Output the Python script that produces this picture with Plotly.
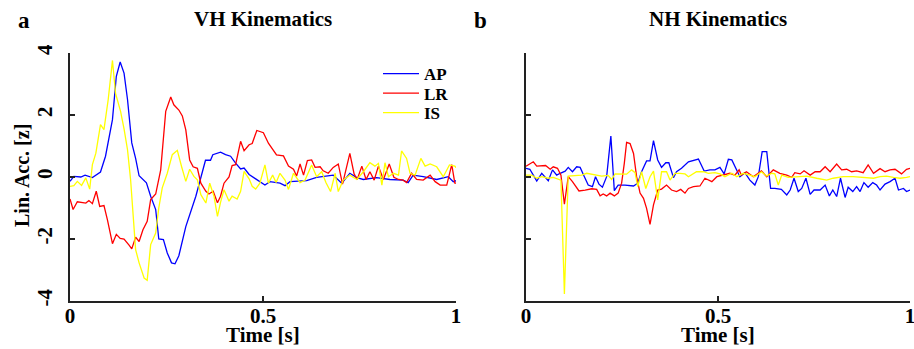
import plotly.graph_objects as go

# ---------------- data ----------------
vh_ap_t = [0.000,0.010,0.028,0.039,0.058,0.079,0.092,0.110,0.120,0.130,0.140,0.149,0.160,0.170,0.179,0.198,0.209,0.222,0.230,0.242,0.252,0.263,0.272,0.282,0.300,0.326,0.351,0.364,0.370,0.390,0.403,0.416,0.429,0.442,0.451,0.464,0.481,0.505,0.518,0.544,0.557,0.570,0.613,0.639,0.682,0.704,0.725,0.743,0.760,0.794,0.829,0.863,0.876,0.889,0.915,0.950,0.980,0.993,1.0]
vh_ap = [-0.14,0.02,0.0,0.06,-0.02,0.16,0.67,1.85,3.25,3.71,3.35,2.5,1.1,0.6,0.04,-0.19,-0.62,-1.05,-2.0,-2.02,-2.45,-2.77,-2.8,-2.54,-1.6,-0.62,0.54,0.54,0.72,0.8,0.72,0.67,0.45,0.26,0.29,0.08,-0.06,-0.26,-0.15,-0.2,-0.28,-0.15,-0.12,-0.01,0.06,-0.2,0.12,-0.02,-0.08,-0.02,-0.08,-0.1,-0.18,0.06,0.01,-0.08,0.01,-0.15,-0.12]

vh_lr_t = [0.000,0.008,0.019,0.032,0.041,0.049,0.058,0.068,0.077,0.088,0.097,0.110,0.120,0.130,0.140,0.153,0.160,0.170,0.179,0.189,0.200,0.209,0.222,0.235,0.248,0.261,0.269,0.282,0.291,0.300,0.310,0.319,0.330,0.339,0.352,0.360,0.371,0.382,0.390,0.399,0.412,0.420,0.429,0.442,0.451,0.464,0.472,0.484,0.501,0.514,0.535,0.553,0.566,0.579,0.587,0.596,0.605,0.615,0.626,0.635,0.648,0.656,0.669,0.682,0.695,0.706,0.725,0.736,0.744,0.756,0.767,0.777,0.788,0.799,0.812,0.827,0.839,0.851,0.863,0.872,0.885,0.898,0.915,0.933,0.946,0.959,0.976,0.989,0.997,1.0]
vh_lr = [-0.71,-1.05,-0.8,-0.82,-0.84,-0.76,-0.86,-0.46,-0.95,-0.92,-1.38,-2.15,-1.85,-1.98,-2.0,-2.2,-2.32,-1.94,-2.08,-1.7,-1.43,-0.73,-0.55,0.23,2.12,2.58,2.33,2.16,1.97,1.52,0.55,0.33,0.28,-0.2,-0.46,-0.55,-0.46,-0.83,-0.62,-0.2,0.0,0.37,0.4,1.15,0.85,1.04,1.08,1.5,1.43,1.09,0.71,0.68,0.35,0.25,0.03,0.42,0.06,0.53,0.55,0.31,0.33,0.2,0.12,0.31,0.42,-0.23,0.76,0.1,-0.08,0.35,-0.08,0.17,-0.1,0.35,-0.08,0.42,-0.01,-0.08,-0.1,-0.18,0.12,-0.08,-0.1,0.06,-0.15,-0.26,-0.26,0.4,-0.2,-0.2]

vh_is_t = [0.000,0.010,0.019,0.030,0.041,0.051,0.058,0.067,0.079,0.088,0.099,0.110,0.118,0.131,0.140,0.149,0.157,0.163,0.170,0.179,0.192,0.200,0.209,0.222,0.230,0.239,0.252,0.265,0.278,0.289,0.300,0.310,0.321,0.330,0.339,0.352,0.362,0.373,0.382,0.390,0.399,0.412,0.420,0.433,0.442,0.451,0.464,0.472,0.481,0.492,0.505,0.514,0.525,0.534,0.544,0.557,0.566,0.579,0.596,0.609,0.626,0.639,0.652,0.663,0.675,0.687,0.695,0.708,0.725,0.743,0.760,0.777,0.790,0.799,0.808,0.816,0.825,0.838,0.851,0.859,0.872,0.881,0.894,0.909,0.920,0.933,0.950,0.967,0.983,0.997,1.0]
vh_is = [-0.3,-0.28,-0.14,-0.27,-0.03,-0.39,0.4,0.77,1.69,1.53,2.5,3.76,2.7,2.12,1.55,0.88,-0.09,-1.16,-2.34,-2.77,-3.26,-3.33,-2.18,-1.81,-1.0,-0.35,0.12,0.72,0.86,0.34,-0.14,0.25,0.02,-0.09,-0.57,-0.84,-0.2,-0.62,-1.27,-0.82,-0.41,-0.78,-0.62,-0.71,-0.46,0.18,-0.06,-0.3,-0.39,-0.2,0.39,-0.2,0.06,-0.18,0.12,-0.1,-0.4,0.12,-0.18,-0.1,0.39,0.01,0.17,-0.18,-0.47,0.12,-0.47,-0.1,0.06,-0.08,0.17,0.46,0.35,0.44,-0.26,0.46,0.01,0.12,0.06,0.84,0.6,0.12,0.06,0.6,0.35,0.42,0.33,0.01,0.39,0.35,0.3]

nh_ap_t = [0.000,0.010,0.019,0.028,0.041,0.049,0.058,0.069,0.080,0.089,0.102,0.110,0.121,0.132,0.141,0.152,0.162,0.173,0.181,0.190,0.199,0.210,0.221,0.230,0.240,0.258,0.280,0.291,0.301,0.314,0.323,0.332,0.343,0.353,0.364,0.372,0.384,0.392,0.405,0.423,0.436,0.449,0.464,0.479,0.492,0.505,0.516,0.527,0.536,0.547,0.557,0.570,0.583,0.596,0.605,0.615,0.627,0.637,0.648,0.665,0.679,0.688,0.698,0.709,0.718,0.729,0.740,0.750,0.766,0.779,0.790,0.799,0.809,0.819,0.831,0.839,0.851,0.861,0.870,0.880,0.891,0.903,0.913,0.922,0.935,0.948,0.961,0.970,0.983,0.991,1.0]
nh_ap = [0.28,0.25,0.06,-0.13,0.12,0.01,-0.12,0.23,0.06,0.12,0.19,0.31,0.17,0.33,0.31,0.01,-0.26,-0.31,0.01,-0.23,-0.33,0.01,1.32,-0.44,-0.26,-0.26,-0.29,-0.2,0.17,0.52,0.52,1.17,0.55,0.31,0.46,0.46,-0.02,0.17,0.28,0.49,0.54,0.58,0.19,0.23,0.23,0.31,0.1,0.57,0.55,0.28,0.01,0.14,-0.1,-0.26,0.01,0.82,0.82,-0.37,-0.37,-0.4,-0.58,-0.42,-0.04,-0.47,-0.37,-0.04,-0.56,-0.42,-0.42,-0.26,-0.61,-0.42,-0.63,-0.04,-0.66,-0.33,-0.47,-0.31,-0.47,-0.18,-0.33,-0.18,-0.26,-0.42,-0.23,-0.15,-0.04,-0.42,-0.37,-0.47,-0.42]

nh_lr_t = [0.000,0.019,0.028,0.041,0.051,0.063,0.071,0.082,0.091,0.100,0.110,0.121,0.138,0.154,0.171,0.184,0.193,0.201,0.210,0.219,0.230,0.240,0.249,0.256,0.262,0.271,0.280,0.288,0.297,0.306,0.314,0.323,0.332,0.343,0.353,0.366,0.379,0.392,0.403,0.414,0.423,0.436,0.453,0.466,0.484,0.497,0.514,0.531,0.544,0.555,0.561,0.574,0.592,0.605,0.613,0.627,0.644,0.661,0.679,0.692,0.700,0.714,0.724,0.740,0.753,0.766,0.779,0.792,0.809,0.822,0.835,0.848,0.861,0.878,0.891,0.905,0.922,0.935,0.948,0.961,0.978,0.991,1.0]
nh_lr = [0.35,0.49,0.35,0.35,0.37,0.25,0.33,0.28,0.06,-0.88,0.01,-0.15,-0.45,-0.42,-0.38,-0.4,-0.61,-0.55,-0.61,-0.52,-0.61,-0.52,-0.2,0.44,1.12,1.08,0.76,0.01,-0.52,-0.69,-1.01,-1.53,-0.9,-0.42,-0.39,-0.26,-0.42,-0.47,-0.4,-0.52,-0.37,-0.31,-0.29,-0.04,-0.15,0.01,0.06,0.12,0.06,0.23,0.06,0.17,0.01,0.12,0.2,0.01,0.23,0.12,0.06,-0.01,0.14,0.1,0.2,0.06,0.17,0.17,0.33,0.17,0.42,0.23,0.25,0.17,0.2,0.14,0.39,0.12,0.27,0.17,0.23,0.25,0.1,0.25,0.28]

nh_is_t = [0.000,0.015,0.028,0.041,0.058,0.071,0.091,0.100,0.110,0.123,0.145,0.158,0.180,0.197,0.214,0.223,0.232,0.249,0.262,0.275,0.284,0.291,0.301,0.312,0.323,0.332,0.343,0.353,0.366,0.375,0.388,0.401,0.414,0.423,0.444,0.462,0.475,0.492,0.505,0.518,0.536,0.549,0.566,0.583,0.596,0.613,0.627,0.640,0.648,0.657,0.666,0.683,0.705,0.731,0.757,0.783,0.800,0.826,0.852,0.878,0.905,0.922,0.939,0.957,0.974,0.991,1.0]
nh_is = [0.06,0.06,-0.04,0.01,-0.04,-0.01,-0.1,-3.77,0.03,0.05,0.06,0.12,0.06,0.03,0.05,-0.08,0.1,0.09,0.09,0.23,0.14,-0.31,0.17,-0.37,0.01,0.19,-0.74,0.17,0.17,-0.1,0.12,0.12,0.1,0.01,0.17,0.17,0.12,0.14,0.1,0.01,0.12,0.01,0.12,0.06,0.01,0.17,0.03,0.12,0.1,-0.26,0.06,-0.01,0.01,0.03,-0.04,-0.1,-0.04,0.01,0.01,-0.01,-0.04,0.01,0.03,-0.01,-0.04,-0.01,0.01]

series_names = ["AP", "LR", "IS"]
series_colors = ["#0000ff", "#ff0000", "#ffff00"]
x_ticks = [0, 0.5, 1]
x_tick_text = ["0", "0.5", "1"]
y_ticks = [-4, -2, 0, 2, 4]
y_tick_text = ["-4", "-2", "0", "2", "4"]
panel_titles = ["VH Kinematics", "NH Kinematics"]
panel_letters = ["a", "b"]

# ---------------- figure ----------------
FONT = "Liberation Serif, Times New Roman, serif"
fig = go.Figure()

L, R, T, B = 70, 4, 53, 48
W, H = 914, 349
pw = W - L - R
ph = H - T - B
d1 = [0, (456 - L) / pw]
d2 = [(526 - L) / pw, 1]

def px_x(px):
    return (px - L) / pw

def px_y(py):
    return (T + ph - py) / ph

legend_ids = ["legend", "legend2", "legend3"]
legend_rows_px = [73, 92.5, 112]

vh = [(vh_ap_t, vh_ap), (vh_lr_t, vh_lr), (vh_is_t, vh_is)]
nh = [(nh_ap_t, nh_ap), (nh_lr_t, nh_lr), (nh_is_t, nh_is)]
for i, (t, v) in enumerate(vh):
    fig.add_trace(go.Scatter(x=t, y=v, mode="lines", name=series_names[i],
                             line=dict(color=series_colors[i], width=1.3),
                             xaxis="x", yaxis="y", showlegend=True, legend=legend_ids[i]))
for i, (t, v) in enumerate(nh):
    fig.add_trace(go.Scatter(x=t, y=v, mode="lines", name=series_names[i],
                             line=dict(color=series_colors[i], width=1.3),
                             xaxis="x2", yaxis="y2", showlegend=False))

TICKFONT = dict(family=FONT, size=21, color="black", weight="bold")
axis_common = dict(showline=True, linecolor="#222", linewidth=2, ticks="inside",
                   ticklen=5, tickwidth=1.5, tickcolor="#222", showgrid=False,
                   zeroline=False, mirror=False, automargin=False, tickfont=TICKFONT,
                   ticklabeloverflow="allow")

legend_layout = {}
for i, lid in enumerate(legend_ids):
    legend_layout[lid] = dict(x=px_x(378), y=px_y(legend_rows_px[i] - 17),
                              xanchor="left", yanchor="top",
                              bgcolor="rgba(0,0,0,0)", borderwidth=0, itemwidth=36,
                              font=dict(family=FONT, size=17, color="black", weight="bold"))

fig.update_layout(
    width=W, height=H, margin=dict(l=L, r=R, t=T, b=B, autoexpand=False),
    paper_bgcolor="white", plot_bgcolor="white",
    xaxis=dict(domain=d1, range=[0, 1], tickvals=x_ticks, ticktext=x_tick_text,
               anchor="y", ticklabelstandoff=-5, **axis_common),
    xaxis2=dict(domain=d2, range=[0, 1], tickvals=x_ticks, ticktext=x_tick_text,
                anchor="y2", ticklabelstandoff=-5, **axis_common),
    yaxis=dict(domain=[0, 1], range=[-4, 4], tickvals=y_ticks, ticktext=y_tick_text,
               anchor="x", tickangle=-90, ticklabelstandoff=8, **axis_common),
    yaxis2=dict(domain=[0, 1], range=[-4, 4], tickvals=y_ticks, ticktext=y_tick_text,
                anchor="x2", showticklabels=False, **axis_common),
    showlegend=True,
    **legend_layout,
)

ann_font = dict(family=FONT, size=21, color="black", weight="bold")
annotations = []
for i, dom in enumerate([d1, d2]):
    annotations.append(dict(text=panel_titles[i], x=(dom[0] + dom[1]) / 2, y=px_y(19),
                            xref="paper", yref="paper", showarrow=False,
                            xanchor="center", yanchor="middle", font=ann_font))
    annotations.append(dict(text="Time [s]", x=(dom[0] + dom[1]) / 2, y=px_y(335),
                            xref="paper", yref="paper", showarrow=False,
                            xanchor="center", yanchor="middle", font=ann_font))
letter_font = dict(family=FONT, size=23, color="black", weight="bold")
annotations.append(dict(text=panel_letters[0], x=px_x(24), y=px_y(20), xref="paper", yref="paper",
                        showarrow=False, xanchor="center", yanchor="middle", font=letter_font))
annotations.append(dict(text=panel_letters[1], x=px_x(480), y=px_y(20), xref="paper", yref="paper",
                        showarrow=False, xanchor="center", yanchor="middle", font=letter_font))
annotations.append(dict(text="Lin. Acc. [z]", x=px_x(22), y=px_y(176), xref="paper", yref="paper",
                        showarrow=False, xanchor="center", yanchor="middle", textangle=-90,
                        font=dict(family=FONT, size=20, color="black", weight="bold")))
fig.update_layout(annotations=annotations)

fig.write_html("out.html", config={"displayModeBar": False},
               post_script="document.body.style.margin='0';document.body.style.padding='0';")
